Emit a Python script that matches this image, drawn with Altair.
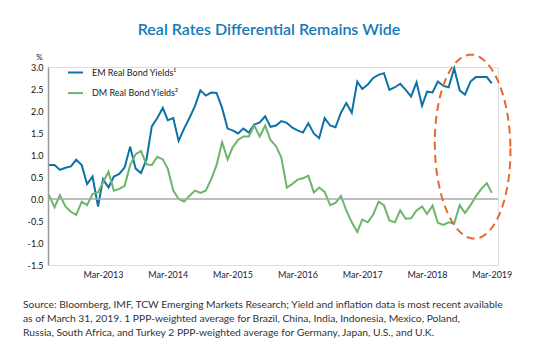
import altair as alt
import pandas as pd
import numpy as np

# ---- data ----
dates = pd.date_range("2012-05-01", periods=83, freq="MS")

em_yields = [0.77, 0.77, 0.66, 0.71, 0.74, 0.89, 0.77, 0.34, 0.51, -0.17,
             0.45, 0.26, 0.51, 0.57, 0.72, 1.19, 0.69, 0.59, 0.90, 1.65,
             1.84, 2.07, 1.79, 1.84, 1.32, 1.60, 1.84, 2.11, 2.47, 2.35,
             2.42, 2.41, 2.07, 1.60, 1.56, 1.49, 1.60, 1.51, 1.69, 1.74,
             1.88, 1.64, 1.67, 1.77, 1.73, 1.62, 1.56, 1.51, 1.72, 1.49,
             1.38, 1.84, 1.67, 1.63, 1.96, 2.18, 1.96, 2.67, 2.50, 2.60,
             2.75, 2.82, 2.86, 2.48, 2.54, 2.62, 2.48, 2.33, 2.65, 2.12,
             2.44, 2.42, 2.67, 2.57, 2.54, 2.97, 2.47, 2.37, 2.67, 2.77,
             2.77, 2.77, 2.63]

dm_yields = [0.09, -0.19, 0.09, -0.17, -0.29, -0.36, -0.06, -0.14, 0.11, 0.15,
             0.38, 0.62, 0.19, 0.23, 0.30, 0.77, 1.02, 1.09, 0.79, 0.77,
             0.96, 0.90, 0.69, 0.19, 0.00, -0.06, 0.07, 0.19, 0.14, 0.19,
             0.45, 0.77, 1.29, 0.90, 1.17, 1.34, 1.42, 1.42, 1.67, 1.42,
             1.67, 1.34, 1.20, 0.94, 0.26, 0.34, 0.44, 0.47, 0.53, 0.15,
             0.26, 0.16, -0.14, -0.09, 0.07, -0.26, -0.53, -0.75, -0.47, -0.53,
             -0.36, -0.06, -0.14, -0.49, -0.53, -0.26, -0.45, -0.44, -0.26, -0.17,
             -0.34, -0.15, -0.54, -0.59, -0.53, -0.56, -0.14, -0.32, -0.14, 0.06,
             0.23, 0.36, 0.14]

EM_LABEL = "EM Real Bond Yields\u00b9"
DM_LABEL = "DM Real Bond Yields\u00b2"
series_names = [EM_LABEL, DM_LABEL]
series_colors = ["#0f72a6", "#6cb56a"]

tick_years = [2013, 2014, 2015, 2016, 2017, 2018, 2019]
y_ticks = [-1.5, -1.0, -0.5, 0.0, 0.5, 1.0, 1.5, 2.0, 2.5, 3.0]

title_text = "Real Rates Differential Remains Wide"
footnote_lines = [
    "Source: Bloomberg, IMF, TCW Emerging Markets Research; Yield and inflation data is most recent available",
    "as of March 31, 2019. 1 PPP-weighted average for Brazil, China, India, Indonesia, Mexico, Poland,",
    "Russia, South Africa, and Turkey  2 PPP-weighted average for Germany, Japan, U.S., and U.K.",
]

# highlight ellipse (annotation), defined in data units
ell_center_date = pd.Timestamp("2018-11-13")
ell_center_val = 1.19
ell_rx_days = 213
ell_ry_val = 2.09
ell_shear_days = 9

# ---- frames ----
df = pd.DataFrame({
    "date": [d.strftime("%Y-%m-%dT00:00:00") for d in dates] * 2,
    "value": em_yields + dm_yields,
    "series": [EM_LABEL] * len(em_yields) + [DM_LABEL] * len(dm_yields),
})

t = np.linspace(0, 2 * np.pi, 121)
ell_dates = [
    (ell_center_date + pd.Timedelta(days=float(ell_rx_days * np.cos(a) - ell_shear_days * np.sin(a)))).strftime("%Y-%m-%dT%H:%M:%S")
    for a in t
]
ell_df = pd.DataFrame({
    "date": ell_dates,
    "value": ell_center_val + ell_ry_val * np.sin(t),
    "i": np.arange(len(t)),
})

FONT = "Lato"

x_scale = alt.Scale(domain=[alt.DateTime(year=2012, month=4, date=25),
                            alt.DateTime(year=2019, month=4, date=5)])
x_axis = alt.Axis(
    values=[alt.DateTime(year=y, month=3, date=1) for y in tick_years],
    format="%b-%Y", title=None, domain=False, ticks=False, grid=False,
    labelFont=FONT, labelFontSize=9, labelColor="#1b1b3a",
    labelPadding=5, labelFlush=False, labelOverlap=False,
)
y_scale = alt.Scale(domain=[-1.5, 3.0], nice=False, zero=False)
y_axis = alt.Axis(
    values=y_ticks, format=".1f",
    labelExpr="replace(datum.label, '\u2212', '-')",
    title="%", titleAngle=0, titleX=-9, titleY=-10, titleAlign="center",
    titleBaseline="middle", titleFont=FONT, titleFontSize=8, titleFontWeight="normal",
    titleColor="#111",
    domain=True, domainColor="#9a9a9a", domainWidth=1.5,
    ticks=False, grid=False, labelOverlap=False, labelBound=False,
    labelFont=FONT, labelFontSize=9, labelColor="#111", labelPadding=5,
)

lines = alt.Chart(df).mark_line(strokeWidth=2).encode(
    x=alt.X("date:T", scale=x_scale, axis=x_axis),
    y=alt.Y("value:Q", scale=y_scale, axis=y_axis),
    color=alt.Color(
        "series:N",
        scale=alt.Scale(domain=series_names, range=series_colors),
        sort=series_names,
        legend=alt.Legend(
            orient="none", legendX=19, legendY=-3, title=None,
            symbolType="stroke", symbolSize=225, symbolStrokeWidth=2,
            labelFont=FONT, labelFontSize=9, labelColor="#222",
            rowPadding=6.6, labelOffset=8, padding=0, direction="vertical",
        ),
    ),
)

zero_rule = alt.Chart(pd.DataFrame({"value": [0]})).mark_rule(
    color="#a8a8a8", strokeWidth=1.5
).encode(y=alt.Y("value:Q", scale=y_scale, axis=y_axis))

ellipse = alt.Chart(ell_df).mark_line(
    color="#e8672e", strokeWidth=2, strokeDash=[8, 5]
).encode(
    x=alt.X("date:T", scale=x_scale, axis=x_axis),
    y=alt.Y("value:Q", scale=y_scale, axis=y_axis),
    order=alt.Order("i:Q"),
)

footnote = alt.Chart(pd.DataFrame({"a": [0]})).mark_text(
    text=footnote_lines, align="left", baseline="alphabetic",
    font=FONT, fontSize=10.3, lineHeight=14, color="#333",
).encode(x=alt.value(-25), y=alt.value(241))

chart = alt.layer(lines, zero_rule, ellipse, footnote).properties(
    width=450, height=198,
    padding={"left": 48, "top": 67, "right": 48, "bottom": 85},
    autosize=alt.AutoSizeParams(type="none"),
    title=alt.TitleParams(
        text=title_text, anchor="middle", offset=13, dx=-4,
        font=FONT, fontSize=16, fontWeight=600, color="#1479b8",
    ),
).configure_view(stroke=None).configure(background="white").configure_axis(labelOverlap=False)

chart.save("out.html", embed_options={"renderer": "svg", "actions": False})
